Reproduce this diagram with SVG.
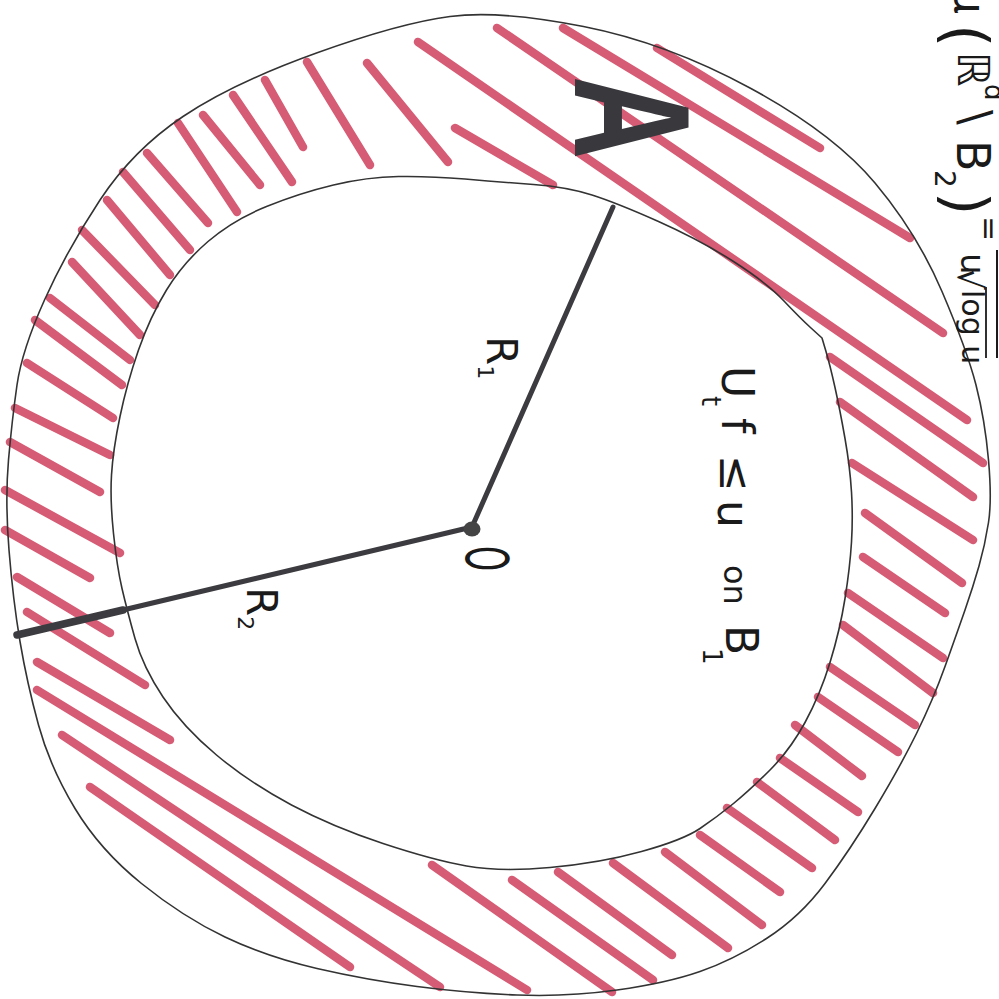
<svg xmlns="http://www.w3.org/2000/svg" width="999" height="999" viewBox="0 0 999 999">
<style>
.bd{fill:none;stroke:#333;stroke-width:1.6;stroke-linejoin:round}
.hatch{fill:none;stroke:#d65b74;stroke-width:8.5;stroke-linecap:round}
.rad{fill:none;stroke:#3c3c40;stroke-linecap:round}
.t{font-family:"DejaVu Sans","Liberation Sans",sans-serif;fill:#1a1a1a}
</style>
<rect width="999" height="999" fill="#fff"/>
<g id="hatching">
<path class="hatch" d="M497,28L943,333 M418,42L967,420 M563,28L910,238 M657,48L820,148 M455,128L553,185 M367,63L448,162 M307,62L370,165 M265,80L303,147 M233,95L292,182 M203,115L260,185 M178,123L237,212 M147,153L208,223 M123,172L190,250 M107,200L170,275 M82,230L155,305 M72,262L140,335 M50,298L130,360 M35,320L122,385 M27,363L113,418 M15,408L110,455 M10,442L100,492 M5,490L120,553 M5,530L90,578 M17,577L110,633 M27,612L145,685 M37,662L170,740 M37,690L527,990 M62,735L440,987 M90,787L350,967 M432,865L612,992 M512,880L653,980 M558,872L672,955 M613,863L728,948 M665,852L762,925 M700,835L780,892 M727,808L812,868 M757,782L835,840 M780,758L858,812 M795,725L862,776 M818,697L898,752 M830,667L915,725 M843,625L933,693 M848,593L943,658 M863,557L945,613 M865,513L962,583 M852,463L973,540 M840,402L973,497 M830,357L983,463"/>
</g>
<g id="outer-boundary">
<path class="bd" d="M583.5,26.5 Q667,43 750,88 Q833,133 875,183 Q917,233 942,291.5 Q967,350 976,385 Q985,420 988.5,460 Q992,500 988.5,522.5 Q985,545 979,566 Q973,587 965,610 Q957,633 945,666.5 Q933,700 916.5,733.5 Q900,767 875,808.5 Q850,850 825,883.5 Q800,917 766.5,938.5 Q733,960 700,971.5 Q667,983 617,990 Q567,997 517,995 Q467,993 417,986.5 Q367,980 317,968.5 Q267,957 225,937 Q183,917 141.5,883.5 Q100,850 75,808.5 Q50,767 38.5,725 Q27,683 20,641.5 Q13,600 9,550 Q5,500 8.5,460 Q12,420 17,385 Q22,350 44.5,300 Q67,250 100,200 Q133,150 183,116.5 Q233,83 316.5,53 Q400,23 450,16.5 Q500,10 583.5,26.5 Z"/>
</g>
<g id="inner-boundary">
<path class="bd" d="M533.5,184.5 Q567,187 592,195 Q617,203 658.5,221.5 Q700,240 733.5,261.5 Q767,283 783.5,300.5 Q800,318 811,328 L822,338 L826,351.5 Q830,365 835,387.5 Q840,410 845,438.5 Q850,467 851.5,492 Q853,517 851.5,542 Q850,567 845,598.5 Q840,630 830,662.5 Q820,695 805,722.5 Q790,750 770,770 Q750,790 733.5,803.5 Q717,817 700,828.5 Q683,840 641.5,851.5 Q600,863 550,867.5 Q500,872 466.5,866 Q433,860 383,843.5 Q333,827 291.5,805 Q250,783 216.5,755 Q183,727 163,697 Q143,667 135,638.5 Q127,610 122,588.5 Q117,567 113.5,533.5 Q110,500 111.5,475 Q113,450 120,416.5 Q127,383 138.5,350 Q150,317 166.5,290 Q183,263 208,241.5 Q233,220 266.5,206.5 Q300,193 333.5,185 Q367,177 398.5,176.5 Q430,176 465,179 Q500,182 533.5,184.5 Z"/>
</g>
<g id="radii">
<path class="rad" stroke-width="5" d="M472,527 L613,207 M472,527 L123,610"/>
<path class="rad" stroke-width="7.5" d="M123,610 L17,635"/>
<ellipse id="origin-dot" cx="472" cy="529" rx="8.5" ry="7.5" fill="#444"/>
</g>
<g id="label-A">
<text transform="translate(575,76) rotate(90) scale(0.7,1)" font-family="'Liberation Sans',sans-serif" font-weight="bold" font-size="165" fill="#38383d">A</text>
</g>
<g id="labels">
<text class="t" font-size="42" transform="translate(487,336) rotate(90)">R<tspan font-size="22" dy="9">1</tspan></text>
<text class="t" font-size="42" transform="translate(247,587) rotate(90)">R<tspan font-size="22" dy="9">2</tspan></text>
<text class="t" font-size="58" transform="translate(466,546) rotate(90) scale(0.55,1)">O</text>
<g id="condition">
<text class="t" font-size="44" transform="translate(722,366) rotate(90)">U</text>
<text class="t" font-size="26" transform="translate(702,396) rotate(90)">t</text>
<text class="t" font-size="44" transform="translate(722,418) rotate(90)">f</text>
<text class="t" font-size="44" transform="translate(720,455) rotate(90)">≤</text>
<text class="t" font-size="44" transform="translate(718,500) rotate(90)">u</text>
<text class="t" font-size="32" transform="translate(724,565) rotate(90)">on</text>
<text class="t" font-size="44" transform="translate(726,625) rotate(90)">B</text>
<text class="t" font-size="26" transform="translate(703,648) rotate(90)">1</text>
</g>
<g id="formula">
<text class="t" font-size="44" transform="translate(955,-14) rotate(90)">μ</text>
<text class="t" font-size="60" transform="translate(945,24) rotate(90)">(</text>
<text class="t" font-size="44" transform="translate(958,52) rotate(90)">ℝ</text>
<text class="t" font-size="26" transform="translate(985,84) rotate(90)">d</text>
<text class="t" font-size="44" transform="translate(960,110) rotate(90)">\</text>
<text class="t" font-size="46" transform="translate(957,140) rotate(90)">B</text>
<text class="t" font-size="28" transform="translate(935,170) rotate(90)">2</text>
<text class="t" font-size="60" transform="translate(945,192) rotate(90)">)</text>
<text class="t" font-size="30" transform="translate(979,216) rotate(90)">=</text>
<line x1="997" y1="250" x2="997" y2="358" stroke="#1a1a1a" stroke-width="2"/>
<text class="t" font-size="34" transform="translate(961,253) rotate(90)">u</text>
<text class="t" font-size="34" transform="translate(958,268) rotate(90)">√</text>
<text class="t" font-size="30" transform="translate(962,290) rotate(90)">log u</text>
<line x1="986" y1="287" x2="986" y2="358" stroke="#1a1a1a" stroke-width="1.8"/>
</g>
</g>
</svg>
